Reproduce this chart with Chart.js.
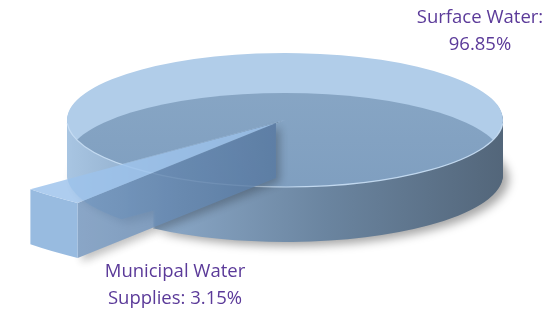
<!DOCTYPE html>
<html>
<head>
<meta charset="utf-8">
<script src="https://cdn.jsdelivr.net/npm/chart.js@4"></script>
<style>
  html, body { margin: 0; background: #fff; }
</style>
</head>
<body>
<canvas id="waterChart" width="553" height="311"></canvas>
<script>
// data
const categories = ['Municipal Water Supplies', 'Surface Water'];
const shares = [3.15, 96.85];

// where the flattened 3d pie sits on the page
const CX = 285, CY = 120, RX = 218, RY = 67, DEPTH = 55;
const SMALL_STRETCH = 1.5; // the pulled-out slice looks longer in the original
const labelPos = [{ x: 175, y: 272 }, { x: 480, y: 18 }];

function sectorPath(ctx, x, y, r, s, e) {
    ctx.beginPath();
    ctx.moveTo(x, y);
    ctx.arc(x, y, r, s, e);
    ctx.closePath();
}

function sliceCenter(arc) {
    const mid = (arc.startAngle + arc.endAngle) / 2;
    const off = arc.options.offset || 0;
    return [arc.x + Math.cos(mid) * off, arc.y + Math.sin(mid) * off];
}

// big slice: stacked layers for the wall, then the top face
function drawBigSlice(ctx, arc, sy) {
    const [px, py] = sliceCenter(arc);
    const R = arc.outerRadius;
    const side = ctx.createLinearGradient(arc.x - R, 0, arc.x + R, 0);
    side.addColorStop(0, '#a8c5e2');
    side.addColorStop(0.25, '#87a4c3');
    side.addColorStop(0.6, '#6a849f');
    side.addColorStop(1, '#53667a');

    for (let d = DEPTH; d >= 1; d--) {
        ctx.save();
        ctx.translate(0, d / sy);
        if (d === DEPTH) {
            ctx.shadowColor = 'rgba(0,0,0,0.35)';
            ctx.shadowBlur = 10;
            ctx.shadowOffsetX = 6;
            ctx.shadowOffsetY = 4;
        }
        sectorPath(ctx, px, py, R, arc.startAngle, arc.endAngle);
        ctx.fillStyle = side;
        ctx.fill();
        ctx.restore();
    }

    // top face, light
    sectorPath(ctx, px, py, R, arc.startAngle, arc.endAngle);
    ctx.fillStyle = '#b1cde9';
    ctx.fill();

    // the see-through look: floor of the disc shows through the top
    ctx.save();
    sectorPath(ctx, px, py, R, arc.startAngle, arc.endAngle);
    ctx.clip();
    const inner = ctx.createLinearGradient(0, py - R, 0, py + R + 40 / sy);
    inner.addColorStop(0, '#8aa8c6');
    inner.addColorStop(1, '#7c9cbe');
    ctx.beginPath();
    ctx.arc(px, py + 40 / sy, R, 0, Math.PI * 2);
    ctx.fillStyle = inner;
    ctx.fill();
    ctx.restore();
}

// pulled-out slice: explicit faces so the box reads as a solid
function drawSmallSlice(ctx, arc, sy) {
    const [px, py] = sliceCenter(arc);
    const r = arc.outerRadius * SMALL_STRETCH;
    const s = arc.startAngle, e = arc.endAngle;
    const h = DEPTH / sy;
    const ax = px + Math.cos(s) * r, ay = py + Math.sin(s) * r;

    // long wall along the start edge
    ctx.save();
    ctx.shadowColor = 'rgba(0,0,0,0.3)';
    ctx.shadowBlur = 8;
    ctx.shadowOffsetX = 4;
    ctx.shadowOffsetY = 4;
    ctx.beginPath();
    ctx.moveTo(px, py);
    ctx.lineTo(ax, ay);
    ctx.lineTo(ax, ay + h);
    ctx.lineTo(px, py + h);
    ctx.closePath();
    const wall = ctx.createLinearGradient(ax, 0, px, 0);
    wall.addColorStop(0, '#7093bb');
    wall.addColorStop(1, '#56779f');
    ctx.fillStyle = wall;
    ctx.fill();
    ctx.restore();

    // outer end
    ctx.beginPath();
    ctx.arc(px, py, r, s, e);
    ctx.arc(px, py + h, r, e, s, true);
    ctx.closePath();
    ctx.fillStyle = '#82acda';
    ctx.fill();

    // top
    sectorPath(ctx, px, py, r, s, e);
    ctx.fillStyle = '#9dc3ec';
    ctx.fill();
}

const pie3d = {
    id: 'pie3d',
    beforeDatasetsDraw(chart) {
        const ctx = chart.ctx;
        const arcs = chart.getDatasetMeta(0).data;
        const R = arcs[0].outerRadius;
        const sx = RX / R, sy = RY / R;
        const setup = (c) => {
            c.translate(CX, CY);
            c.scale(sx, sy);
            c.translate(-arcs[0].x, -arcs[0].y);
        };

        ctx.save();
        setup(ctx);
        drawBigSlice(ctx, arcs[1], sy);
        // light rim along the front edge
        const [bx, by] = sliceCenter(arcs[1]);
        ctx.beginPath();
        ctx.arc(bx, by, R, 0.05, Math.PI - 0.05);
        ctx.restore();
        ctx.strokeStyle = 'rgba(200,222,244,0.9)';
        ctx.lineWidth = 1.2;
        ctx.stroke();

        // see-through pulled-out slice
        const off = document.createElement('canvas');
        off.width = chart.width;
        off.height = chart.height;
        const octx = off.getContext('2d');
        octx.save();
        setup(octx);
        drawSmallSlice(octx, arcs[0], sy);
        octx.restore();

        ctx.save();
        ctx.setTransform(1, 0, 0, 1, 0, 0);
        ctx.globalAlpha = 0.82;
        ctx.drawImage(off, 0, 0);
        ctx.restore();
        return false;
    },
    afterDraw(chart) {
        const ctx = chart.ctx;
        ctx.save();
        ctx.font = '18.5px "Open Sans", "Noto Sans", sans-serif';
        ctx.fillStyle = '#5b3a99';
        ctx.textAlign = 'center';
        ctx.textBaseline = 'middle';
        categories.forEach((cat, i) => {
            const words = `${cat}: ${shares[i].toFixed(2)}%`.split(' ');
            const lines = [];
            let line = '';
            words.forEach(w => {
                const test = line ? line + ' ' + w : w;
                if (line && ctx.measureText(test).width > 150) {
                    lines.push(line);
                    line = w;
                } else {
                    line = test;
                }
            });
            lines.push(line);
            lines.forEach((l, k) => ctx.fillText(l, labelPos[i].x, labelPos[i].y + k * 27));
        });
        ctx.restore();
    }
};

// small slice first, centred on ~133 degrees (lower left)
const startDeg = 133 - shares[0] / 100 * 360 / 2;

new Chart(document.getElementById('waterChart'), {
    type: 'pie',
    data: {
        labels: categories,
        datasets: [{
            data: shares,
            offset: [8, 0],
            borderWidth: 0
        }]
    },
    options: {
        responsive: false,
        animation: false,
        rotation: startDeg + 90,
        layout: { padding: 20 },
        plugins: {
            legend: { display: false },
            tooltip: { enabled: false }
        }
    },
    plugins: [pie3d]
});
</script>
</body>
</html>
